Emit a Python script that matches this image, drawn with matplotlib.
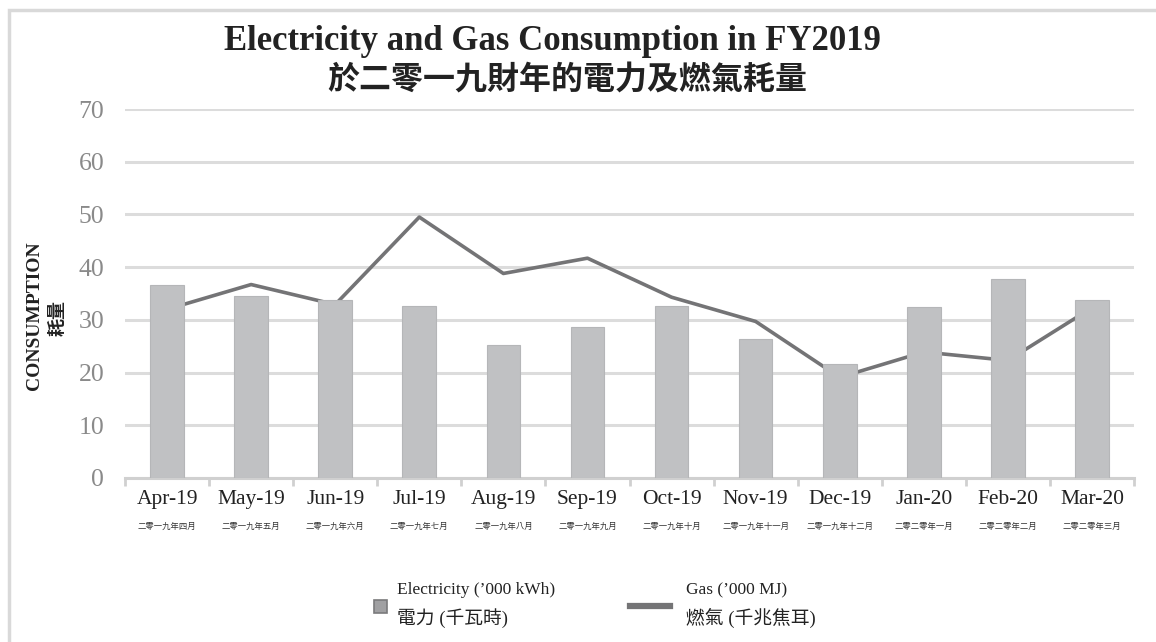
import matplotlib.pyplot as plt
import numpy as np
from matplotlib.lines import Line2D
from matplotlib.patches import Rectangle

plt.rcParams['font.family'] = ['Liberation Serif', 'Noto Sans CJK TC']

# Dados
meses = ['Apr-19', 'May-19', 'Jun-19', 'Jul-19', 'Aug-19', 'Sep-19',
         'Oct-19', 'Nov-19', 'Dec-19', 'Jan-20', 'Feb-20', 'Mar-20']
meses_cn = ['二零一九年四月', '二零一九年五月', '二零一九年六月', '二零一九年七月',
            '二零一九年八月', '二零一九年九月', '二零一九年十月', '二零一九年十一月',
            '二零一九年十二月', '二零二零年一月', '二零二零年二月', '二零二零年三月']
eletricidade = [36.6, 34.5, 33.8, 32.6, 25.2, 28.7, 32.6, 26.4, 21.6, 32.4, 37.8, 33.7]
gas = [32.0, 36.7, 32.9, 49.5, 38.8, 41.7, 34.3, 29.7, 19.1, 23.9, 22.3, 32.3]
yticks = [0, 10, 20, 30, 40, 50, 60, 70]

cor_barra = '#c0c1c3'
cor_linha = '#747476'
cor_grade = '#dcdcdc'

fig = plt.figure(figsize=(11.56, 6.42), dpi=100)
fig.patches.append(Rectangle((9 / 1156, -0.1), 1.2, 1 - 10 / 642 + 0.1,
                             transform=fig.transFigure, fill=False,
                             edgecolor='#d9d9d9', linewidth=2.5))

ax = fig.add_axes([125 / 1156, 1 - 478 / 642, 1009 / 1156, 369 / 642])
x = np.arange(len(meses))

# linha por trás das barras
ax.plot(x, gas, color=cor_linha, linewidth=2.6, zorder=2)
ax.bar(x, eletricidade, width=0.4, color=cor_barra, edgecolor='#b5b6b8',
       linewidth=0.8, zorder=3)

ax.set_xlim(-0.5, len(meses) - 0.5)
ax.set_ylim(0, 70)
ax.set_yticks(yticks)
ax.set_yticklabels([str(v) for v in yticks], fontsize=18.5, color='#8a8a8a')
ax.tick_params(axis='y', length=0, pad=15)
ax.yaxis.grid(True, color=cor_grade, linewidth=2.2)
ax.set_axisbelow(True)

for s in ['top', 'right', 'left']:
    ax.spines[s].set_visible(False)
ax.spines['bottom'].set_color('#d0d0d0')
ax.spines['bottom'].set_linewidth(2.2)

# ticks nas fronteiras das categorias
ax.set_xticks(np.arange(-0.5, len(meses), 1.0))
ax.set_xticklabels([])
ax.tick_params(axis='x', length=6, width=2, color='#d0d0d0', direction='out')
for i in range(len(meses)):
    ax.text(i, -2.2, meses[i], ha='center', va='top', fontsize=15.5, color='#222222')
    ax.text(i, -8.4, meses_cn[i], ha='center', va='top', fontsize=6,
            color='#333333', family=['Noto Sans CJK TC'])

fig.text(0.478, 1 - 41 / 642, 'Electricity and Gas Consumption in FY2019',
         ha='center', va='center', fontsize=25, fontweight='bold', color='#222222')
fig.text(0.491, 1 - 81 / 642, '於二零一九財年的電力及燃氣耗量',
         ha='center', va='center', fontsize=23, fontweight='bold', color='#222222',
         family=['Noto Sans CJK TC'])

fig.text(35 / 1156, 1 - 316 / 642, 'CONSUMPTION', rotation=90, ha='center',
         va='center', fontsize=14, fontweight='bold', color='#222222')
fig.text(57 / 1156, 1 - 318 / 642, '耗量', rotation=90, ha='center',
         va='center', fontsize=13, fontweight='bold', color='#222222',
         family=['Noto Sans CJK TC'])

# legenda feita à mão
fig.patches.append(Rectangle((374 / 1156, 1 - 613 / 642), 13 / 1156, 13 / 642,
                             transform=fig.transFigure, facecolor='#a0a0a2',
                             edgecolor='#7a7a7c', linewidth=1.2))
fig.text(397 / 1156, 1 - 590 / 642, "Electricity (’000 kWh)", ha='left', va='center',
         fontsize=12.5, color='#222222')
fig.text(397 / 1156, 1 - 618 / 642, '電力 (千瓦時)', ha='left', va='center',
         fontsize=13.5, color='#222222')
fig.lines.append(Line2D([630 / 1156, 670 / 1156], [1 - 606 / 642, 1 - 606 / 642],
                        transform=fig.transFigure, color=cor_linha, linewidth=4.5))
fig.text(686 / 1156, 1 - 590 / 642, "Gas (’000 MJ)", ha='left', va='center',
         fontsize=12.5, color='#222222')
fig.text(686 / 1156, 1 - 618 / 642, '燃氣 (千兆焦耳)', ha='left', va='center',
         fontsize=13.5, color='#222222')

fig.savefig('out.png', dpi=100)
